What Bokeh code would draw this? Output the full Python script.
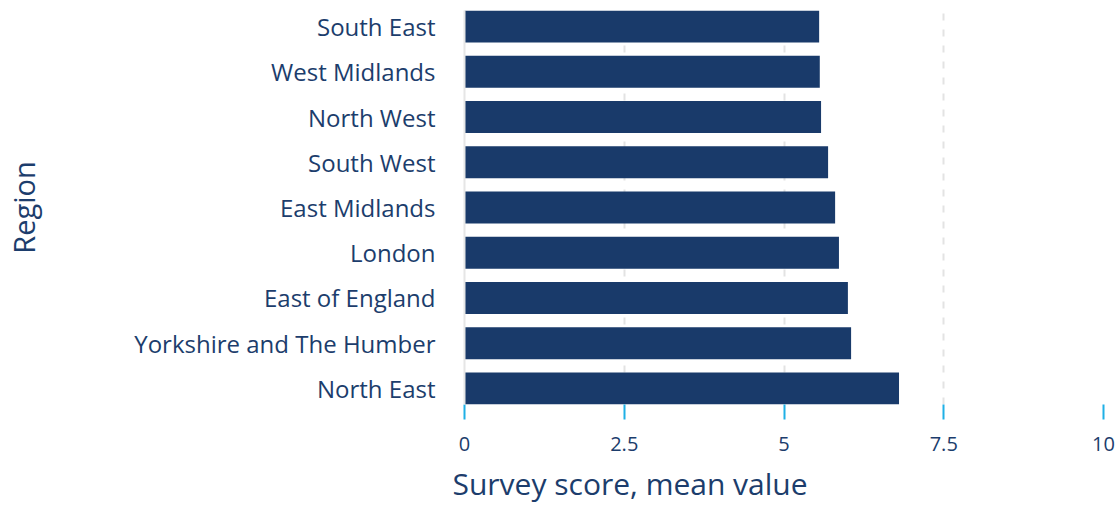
from bokeh.plotting import figure
from bokeh.models import Range1d, FixedTicker, Title
from bokeh.embed import file_html
from bokeh.resources import INLINE

regions = ["South East", "West Midlands", "North West", "South West", "East Midlands",
           "London", "East of England", "Yorkshire and The Humber", "North East"]
scores = [5.55, 5.56, 5.58, 5.69, 5.80, 5.86, 6.00, 6.05, 6.80]
x_ticks = [0, 2.5, 5, 7.5, 10]
x_tick_labels = ["0", "2.5", "5", "7.5", "10"]
x_title = "Survey score, mean value"
y_title = "Region"

n = len(regions)
ypos = [n - 1 - i for i in range(n)]

FONT = "Open Sans"
TEXT = "#1c3d6c"
BAR = "#193a6a"
CYAN = "#1fb0e6"

p = figure(width=1119, height=511, output_backend="svg", toolbar_location=None,
           x_range=Range1d(0, 10), y_range=Range1d(-0.3546, n - 1 + 0.3546),
           min_border_left=464, min_border_right=16, min_border_top=10, min_border_bottom=107)
p.outline_line_color = None
p.background_fill_color = "white"

p.hbar(y=ypos, right=scores, left=0, height=0.709, color=BAR, line_color=None)

# x axis
xa = p.xaxis[0]
xa.ticker = FixedTicker(ticks=x_ticks)
xa.major_label_overrides = {t: l for t, l in zip(x_ticks, x_tick_labels)}
xa.axis_line_color = None
xa.major_tick_in = 0
xa.major_tick_out = 15
xa.major_tick_line_color = CYAN
xa.major_tick_line_width = 2
xa.minor_tick_line_color = None
xa.major_label_standoff = 17
xa.major_label_text_font = FONT
xa.major_label_text_font_size = "20px"
xa.major_label_text_color = TEXT

p.add_layout(Title(text=x_title, align="left", offset=-12,
                   text_font=FONT, text_font_size="30px", text_font_style="normal",
                   text_color=TEXT, standoff=14), "below")

# y axis
ya = p.yaxis[0]
ya.ticker = FixedTicker(ticks=ypos)
ya.major_label_overrides = {y: r for y, r in zip(ypos, regions)}
ya.axis_line_color = "#e6e6e6"
ya.axis_line_width = 2
ya.major_tick_line_color = None
ya.minor_tick_line_color = None
ya.major_label_standoff = 23
ya.major_label_text_font = FONT
ya.major_label_text_font_size = "24px"
ya.major_label_text_color = TEXT
ya.axis_label = y_title
ya.axis_label_text_font = FONT
ya.axis_label_text_font_size = "29px"
ya.axis_label_text_font_style = "normal"
ya.axis_label_text_color = TEXT
ya.axis_label_standoff = 88

p.xgrid.ticker = FixedTicker(ticks=x_ticks)
p.xgrid.grid_line_color = "#e3e3e3"
p.xgrid.grid_line_width = 2
p.xgrid.grid_line_dash = "7 9"
p.ygrid.grid_line_color = None

open("out.html", "w").write(file_html(p, INLINE))
